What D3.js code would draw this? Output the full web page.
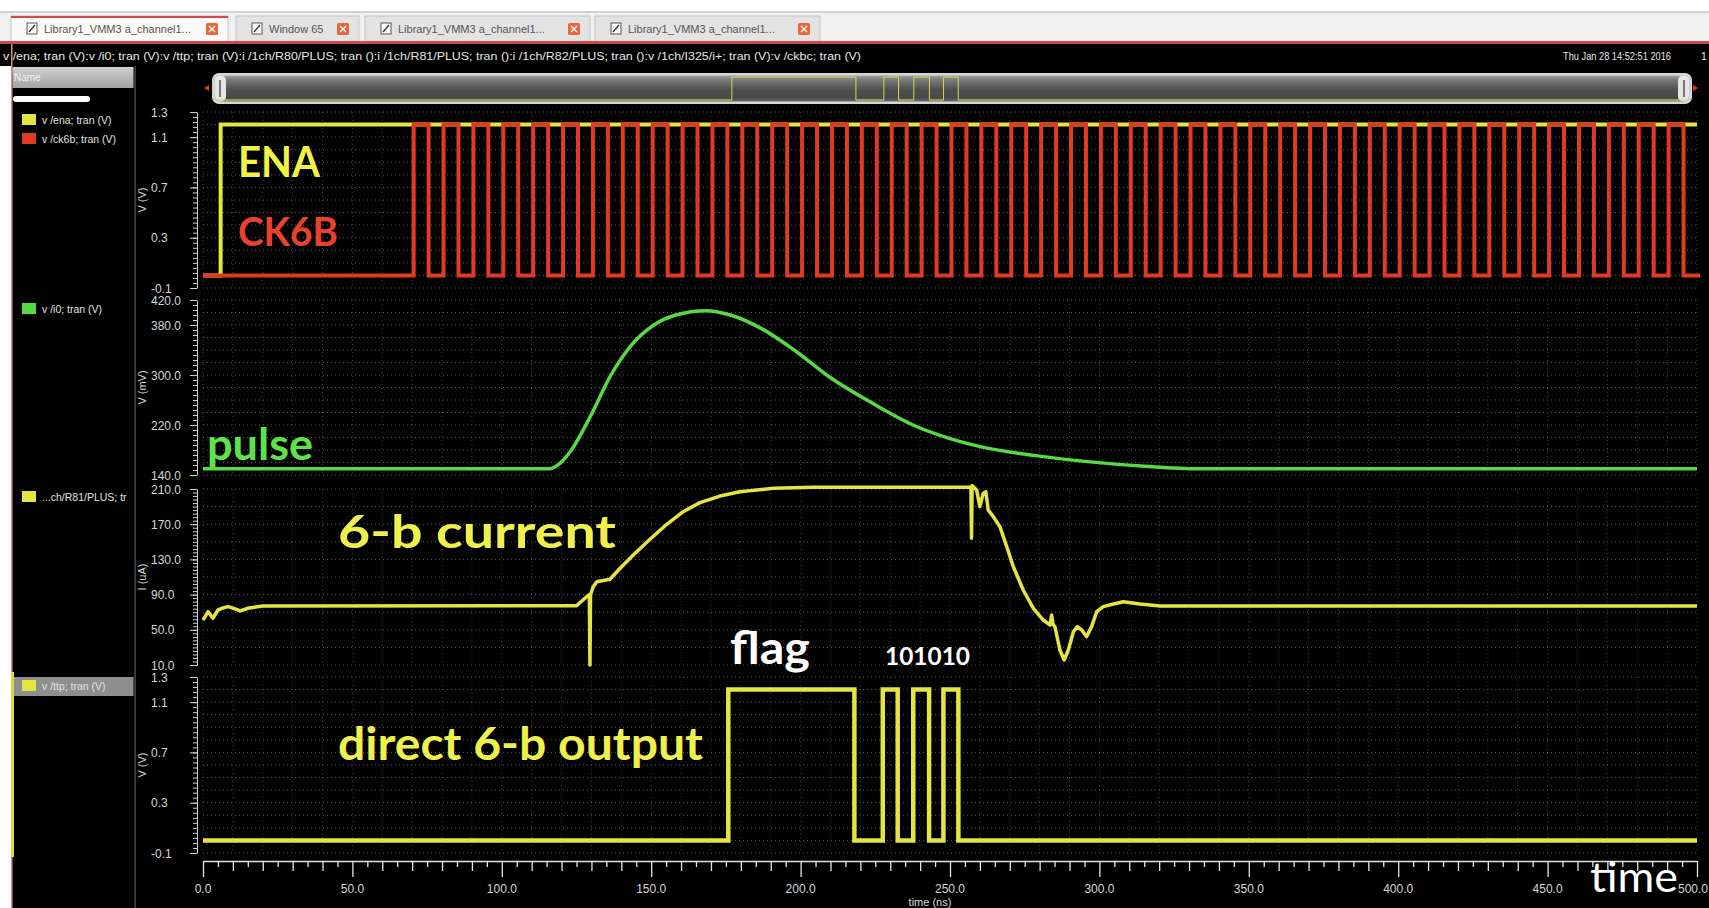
<!DOCTYPE html>
<html><head><meta charset="utf-8">
<script src="https://cdn.jsdelivr.net/npm/d3@7/dist/d3.min.js"></script>
<style>html,body{margin:0;padding:0;background:#000;overflow:hidden}svg{display:block}</style>
</head><body>
<svg id="chart" width="1709" height="908"></svg>
<script>
// ---------------- DATA ----------------
const tabLabels = ["Library1_VMM3 a_channel1...", "Window 65", "Library1_VMM3 a_channel1...", "Library1_VMM3 a_channel1..."];
const headerText = "v /ena; tran (V):v /i0; tran (V):v /ttp; tran (V):i /1ch/R80/PLUS; tran ():i /1ch/R81/PLUS; tran ():i /1ch/R82/PLUS; tran ():v /1ch/I325/i+; tran (V):v /ckbc; tran (V)";
const dateText = "Thu Jan 28 14:52:51 2016";
const legendLabels = ["v /ena; tran (V)", "v /ck6b; tran (V)", "v /i0; tran (V)", "...ch/R81/PLUS; tr", "v /ttp; tran (V)"];
const yTitles = ["V (V)", "V (mV)", "I (uA)", "V (V)"];
const p1TickValues = [1.3, 1.1, 0.7, 0.3, -0.1];
const p1TickLabels = ["1.3", "1.1", "0.7", "0.3", "-0.1"];
const p2TickValues = [420, 380, 300, 220, 140];
const p2TickLabels = ["420.0", "380.0", "300.0", "220.0", "140.0"];
const p3TickValues = [210, 170, 130, 90, 50, 10];
const p3TickLabels = ["210.0", "170.0", "130.0", "90.0", "50.0", "10.0"];
const p4TickValues = [1.3, 1.1, 0.7, 0.3, -0.1];
const p4TickLabels = ["1.3", "1.1", "0.7", "0.3", "-0.1"];
const xTickValues = [0, 50, 100, 150, 200, 250, 300, 350, 400, 450, 500];
const xTickLabels = ["0.0", "50.0", "100.0", "150.0", "200.0", "250.0", "300.0", "350.0", "400.0", "450.0", "500.0"];
const xTitle = "time (ns)";

// ENA (V)
const enaT = [0, 5.9, 5.9, 500];
const enaV = [0, 0, 1.2, 1.2];
// CK6B clock edges (ns), levels (V)
const ckRise = [70.5, 80.5, 90.5, 100.5, 110.5, 120.5, 130.5, 140.5, 150.5, 160.5, 170.5, 180.5, 190.5, 200.5, 210.5, 220.5, 230.5, 240.5, 250.5, 260.5, 270.5, 280.5, 290.5, 300.5, 310.5, 320.5, 330.5, 340.5, 350.5, 360.5, 370.5, 380.5, 390.5, 400.5, 410.5, 420.5, 430.5, 440.5, 450.5, 460.5, 470.5, 480.5, 490.5];
const ckFall = [75.5, 85.5, 95.5, 105.5, 115.5, 125.5, 135.5, 145.5, 155.5, 165.5, 175.5, 185.5, 195.5, 205.5, 215.5, 225.5, 235.5, 245.5, 255.5, 265.5, 275.5, 285.5, 295.5, 305.5, 315.5, 325.5, 335.5, 345.5, 355.5, 365.5, 375.5, 385.5, 395.5, 405.5, 415.5, 425.5, 435.5, 445.5, 455.5, 465.5, 475.5, 485.5, 495.5];
const ckLevels = [0, 1.2];
// pulse (mV)
const pulseT = [0, 116, 119, 122.7, 130, 136.3, 143.6, 150.9, 158.2, 168.4, 176.5, 187.4, 198.4, 209.3, 224, 238.6, 249.5, 260.5, 278.7, 296.9, 315.2, 333.4, 500];
const pulseV = [150, 150, 157, 176, 237, 298, 349, 380, 396, 403, 396, 373, 338, 298, 255, 218, 199, 185, 171, 161, 154, 150, 150];
// 6-b current (uA)
const curT = [0, 1.7, 3.3, 5, 6.7, 8.4, 10.5, 12.5, 15, 20, 125, 128.4, 129.3, 129.5, 129.7, 130.2, 130.6, 131.8, 136.2, 139.6, 144, 149.6, 155.2, 160.7, 166.3, 173, 179.7, 190.9, 204.3, 257.0, 257.2, 257.4, 258.9, 260, 261.1, 262, 262.8, 264.5, 266.7, 269, 271.2, 274.5, 277.9, 281.2, 283.5, 284, 284.5, 285.1, 286.8, 288.2, 289.6, 291.3, 292.6, 294.1, 295.7, 297.4, 299.1, 301.3, 304.7, 308, 313.6, 320.3, 500];
const curV = [61, 70.6, 63.1, 72.5, 74.8, 76.3, 74, 71.5, 74.5, 77, 77.4, 87.6, 90, 10, 90, 95, 99, 104.7, 107.4, 119.9, 135, 152.8, 169.9, 184.2, 194.5, 202, 206.9, 210.8, 212, 212, 154, 214, 209, 190, 205, 207, 186, 178.6, 167.2, 144.4, 121.7, 95.2, 74.4, 61.1, 55.5, 66.8, 56, 53.6, 27, 15.7, 27, 47.8, 53.6, 49.8, 42.2, 53.6, 70.6, 76.3, 79.3, 81.9, 79.3, 77, 77];
// direct 6-b output edges (ns), levels (V)
const outRise = [175.8, 227.5, 237.7, 247.8];
const outFall = [218, 232.5, 243, 252.8];
const outLevels = [0, 1.2];
// annotations
const annTexts = ["ENA", "CK6B", "pulse", "6-b current", "flag", "101010", "direct 6-b output", "time"];

// ---------------- STYLE / LAYOUT ----------------
const FONT = "'Liberation Sans', Arial, sans-serif";
const ANN = "Lato, 'Open Sans', sans-serif";
const C_YEL = "#e4e442", C_RED = "#e03a22", C_GRN = "#58d844";
const svg = d3.select("#chart");

const x = d3.scaleLinear().domain([0, 500]).range([203, 1697]);
const y1 = d3.scaleLinear().domain([-0.1, 1.3]).range([288, 112]);
const y2 = d3.scaleLinear().domain([140, 420]).range([475, 300]);
const y3 = d3.scaleLinear().domain([10, 210]).range([665, 489]);
const y4 = d3.scaleLinear().domain([-0.1, 1.3]).range([853, 677]);

function stepPts(rises, falls, lv, t0, t1) {
  const p = [[t0, lv[0]]];
  rises.forEach((r, i) => { p.push([r, lv[0]], [r, lv[1]], [falls[i], lv[1]], [falls[i], lv[0]]); });
  p.push([t1, lv[0]]);
  return p;
}
const zip = (a, b) => a.map((v, i) => [v, b[i]]);

// background
svg.append("rect").attr("width", 1709).attr("height", 908).attr("fill", "#000");

// ---- top chrome ----
svg.append("rect").attr("x", 0).attr("y", 0).attr("width", 1709).attr("height", 11).attr("fill", "#fff");
svg.append("rect").attr("x", 0).attr("y", 11).attr("width", 1709).attr("height", 2).attr("fill", "#d2d2d2");
svg.append("rect").attr("x", 0).attr("y", 13).attr("width", 1709).attr("height", 29).attr("fill", "#f0f0f0");
const tabX = [11, 236, 365, 595], tabW = [217, 123, 225, 225];
const tabs = svg.append("g");
tabLabels.forEach((t, i) => {
  const g = tabs.append("g").attr("transform", `translate(${tabX[i]},16)`);
  g.append("rect").attr("width", tabW[i]).attr("height", 26).attr("fill", i === 0 ? "#fafafa" : "#e3e3e3").attr("stroke", "#c6c6c6");
  if (i === 0) g.append("rect").attr("width", tabW[i]).attr("height", 2).attr("fill", "#d24a4a");
  g.append("rect").attr("x", 16).attr("y", 7).attr("width", 10).attr("height", 11).attr("fill", "#fff").attr("stroke", "#555");
  g.append("path").attr("d", "M18,16 L24,9").attr("stroke", "#333").attr("stroke-width", 1.3);
  g.append("text").attr("x", 33).attr("y", 17).attr("font-family", FONT).attr("font-size", 11).attr("fill", "#555").text(t);
  const cx = tabW[i] - 22;
  g.append("rect").attr("x", cx).attr("y", 7).attr("width", 12).attr("height", 12).attr("rx", 1.5).attr("fill", "#e8663c");
  g.append("path").attr("d", `M${cx + 3},10 L${cx + 9},16 M${cx + 9},10 L${cx + 3},16`).attr("stroke", "#fff").attr("stroke-width", 1.4);
});
svg.append("rect").attr("x", 0).attr("y", 41).attr("width", 1709).attr("height", 3).attr("fill", "#cc4a4a");

// header line
svg.append("text").attr("x", 3).attr("y", 60).attr("font-family", FONT).attr("font-size", 10.5).attr("fill", "#e6e6e6")
  .attr("textLength", 858).attr("lengthAdjust", "spacingAndGlyphs").text(headerText);
svg.append("text").attr("x", 1563).attr("y", 60).attr("font-family", FONT).attr("font-size", 10.5).attr("fill", "#e6e6e6")
  .attr("textLength", 108).attr("lengthAdjust", "spacingAndGlyphs").text(dateText);
svg.append("text").attr("x", 1701).attr("y", 60).attr("font-family", FONT).attr("font-size", 10.5).attr("fill", "#e6e6e6").text("1");

// ---- left panel ----
svg.append("rect").attr("x", 0).attr("y", 66).attr("width", 11).attr("height", 842).attr("fill", "#fff");
svg.append("rect").attr("x", 11).attr("y", 44).attr("width", 1.5).attr("height", 864).attr("fill", "#e58a8a");
svg.append("rect").attr("x", 134.5).attr("y", 66).attr("width", 1.2).attr("height", 842).attr("fill", "#5a5a5a");
const defs = svg.append("defs");
const gN = defs.append("linearGradient").attr("id", "nameg").attr("x1", 0).attr("x2", 0).attr("y1", 0).attr("y2", 1);
gN.append("stop").attr("offset", "0").attr("stop-color", "#cfcfcf");
gN.append("stop").attr("offset", "1").attr("stop-color", "#a4a4a4");
svg.append("rect").attr("x", 12.5).attr("y", 67).attr("width", 121).attr("height", 21).attr("fill", "url(#nameg)");
svg.append("text").attr("x", 14).attr("y", 81).attr("font-family", FONT).attr("font-size", 10).attr("fill", "#f2f2f2").text("Name");
svg.append("rect").attr("x", 13).attr("y", 96).attr("width", 77).attr("height", 6).attr("rx", 3).attr("fill", "#fff");

const legendColors = [C_YEL, C_RED, C_GRN, C_YEL, C_YEL];
const legendY = [120, 139, 309, 497, 686];
svg.append("rect").attr("x", 12.5).attr("y", 677).attr("width", 121).attr("height", 19).attr("fill", "#8e8e8e");
svg.append("rect").attr("x", 11).attr("y", 672).attr("width", 3).attr("height", 185).attr("fill", "#e0d840");
const leg = svg.append("g").selectAll("g").data(legendLabels).join("g")
  .attr("transform", (d, i) => `translate(0,${legendY[i]})`);
leg.append("rect").attr("x", 22).attr("y", -6).attr("width", 14).attr("height", 11).attr("fill", (d, i) => legendColors[i]);
leg.append("text").attr("x", 42).attr("y", 4).attr("font-family", FONT).attr("font-size", 10.5).attr("fill", "#e2e2e2").text(d => d);

// ---- scrollbar ----
const gS = defs.append("linearGradient").attr("id", "scrg").attr("x1", 0).attr("x2", 0).attr("y1", 0).attr("y2", 1);
[["0", "#a4a4a4"], ["0.15", "#7c7c7c"], ["0.55", "#505050"], ["0.85", "#484848"], ["1", "#6c6c6c"]].forEach(s => gS.append("stop").attr("offset", s[0]).attr("stop-color", s[1]));
svg.append("rect").attr("x", 212).attr("y", 73).attr("width", 1480).attr("height", 31).attr("rx", 7).attr("fill", "#d6d6d6");
svg.append("rect").attr("x", 215).attr("y", 75.5).attr("width", 1474).attr("height", 26).attr("rx", 5).attr("fill", "url(#scrg)");
svg.append("rect").attr("x", 215).attr("y", 75.5).attr("width", 11).attr("height", 26).attr("rx", 5).attr("fill", "#e6e6e6");
svg.append("rect").attr("x", 219).attr("y", 80).attr("width", 2).attr("height", 17).attr("fill", "#777");
svg.append("rect").attr("x", 1678).attr("y", 75.5).attr("width", 11).attr("height", 26).attr("rx", 5).attr("fill", "#e6e6e6");
svg.append("rect").attr("x", 1683).attr("y", 80).attr("width", 2).attr("height", 17).attr("fill", "#777");
svg.append("path").attr("d", "M204,88 L209,85 L209,91 Z").attr("fill", "#e03a22");
svg.append("path").attr("d", "M1698,88 L1693,85 L1693,91 Z").attr("fill", "#e03a22");
const xm = d3.scaleLinear().domain([0, 500]).range([215, 1685]);
const ym = d3.scaleLinear().domain([0, 1.2]).range([100, 77]);
svg.append("path").datum(stepPts(outRise, outFall, outLevels, 0, 500))
  .attr("d", d3.line().x(d => xm(d[0])).y(d => ym(d[1]))).attr("fill", "none").attr("stroke", "#d8d844").attr("stroke-width", 1);

// ---- panels: grid + axes ----
const panels = [
  { y: y1, step: 0.1, minor: 0.04, tv: p1TickValues, tl: p1TickLabels, title: yTitles[0] },
  { y: y2, step: 20, minor: 8, tv: p2TickValues, tl: p2TickLabels, title: yTitles[1] },
  { y: y3, step: 20, minor: 4, tv: p3TickValues, tl: p3TickLabels, title: yTitles[2] },
  { y: y4, step: 0.1, minor: 0.04, tv: p4TickValues, tl: p4TickLabels, title: yTitles[3] }
];
const gridV = d3.range(0, 501, 10);
panels.forEach(p => {
  const [d0, d1] = p.y.domain();
  const g = svg.append("g");
  const hv = d3.range(d0, d1 + p.step / 2, p.step);
  g.selectAll(".hg").data(hv).join("line")
    .attr("x1", x(0)).attr("x2", x(500)).attr("y1", d => p.y(d)).attr("y2", d => p.y(d))
    .attr("stroke", "#5c5c5c").attr("stroke-dasharray", "1,3");
  g.selectAll(".vg").data(gridV).join("line")
    .attr("x1", d => x(d)).attr("x2", d => x(d)).attr("y1", p.y.range()[1]).attr("y2", p.y.range()[0])
    .attr("stroke", "#404040").attr("stroke-dasharray", "1,3");
  const minorVals = d3.range(d0, d1 + p.minor / 2, p.minor);
  const ax = svg.append("g").attr("transform", "translate(197,0)")
    .call(d3.axisLeft(p.y).tickValues(minorVals).tickSize(4).tickSizeOuter(0).tickFormat(""));
  ax.selectAll("path,line").attr("stroke", "#d0d0d0");
  const ax2 = svg.append("g").attr("transform", "translate(197,0)")
    .call(d3.axisLeft(p.y).tickValues(p.tv).tickSize(7).tickSizeOuter(0).tickFormat(""));
  ax2.select(".domain").remove();
  ax2.selectAll("line").attr("stroke", "#d0d0d0");
  svg.append("g").selectAll("text").data(p.tv).join("text")
    .attr("x", 151).attr("y", d => p.y(d) + 4.5)
    .attr("font-family", FONT).attr("font-size", 12).attr("fill", "#d6d6d6")
    .text((d, i) => p.tl[i]);
  const cy = (p.y.range()[0] + p.y.range()[1]) / 2;
  svg.append("text").attr("transform", `translate(146,${cy}) rotate(-90)`).attr("text-anchor", "middle")
    .attr("font-family", FONT).attr("font-size", 11).attr("fill", "#d6d6d6").text(p.title);
});

// ---- x axis ----
const xa = svg.append("g").attr("transform", "translate(0,861)")
  .call(d3.axisBottom(x).tickValues(d3.range(0, 501, 5)).tickSizeOuter(0).tickFormat(""));
xa.selectAll(".tick line").attr("y2", d => d % 50 === 0 ? 16 : (d % 10 === 0 ? 10 : 6));
xa.selectAll("path,line").attr("stroke", "#e4e4e4").attr("stroke-width", 1.3);
const nX = xTickValues.length;
svg.append("g").selectAll("text").data(xTickValues).join("text")
  .attr("x", (d, i) => i === nX - 1 ? 1708 : x(d)).attr("y", 893)
  .attr("text-anchor", (d, i) => i === nX - 1 ? "end" : "middle")
  .attr("font-family", FONT).attr("font-size", 12).attr("fill", "#d6d6d6")
  .text((d, i) => xTickLabels[i]);
svg.append("text").attr("x", 930).attr("y", 906).attr("text-anchor", "middle")
  .attr("font-family", FONT).attr("font-size", 11).attr("fill", "#d6d6d6").text(xTitle);

// ---- traces ----
const line = (ys) => d3.line().x(d => x(d[0])).y(d => ys(d[1]));
svg.append("path").datum(zip(enaT, enaV)).attr("d", line(y1))
  .attr("fill", "none").attr("stroke", C_YEL).attr("stroke-width", 4);
svg.append("path").datum(stepPts(ckRise, ckFall, ckLevels, 0, 501)).attr("d", line(y1))
  .attr("fill", "none").attr("stroke", C_RED).attr("stroke-width", 4);
svg.append("path").datum(zip(pulseT, pulseV)).attr("d", line(y2).curve(d3.curveMonotoneX))
  .attr("fill", "none").attr("stroke", C_GRN).attr("stroke-width", 3.5);
svg.append("path").datum(zip(curT, curV)).attr("d", line(y3))
  .attr("fill", "none").attr("stroke", C_YEL).attr("stroke-width", 3.5).attr("stroke-linejoin", "round");
svg.append("path").datum(stepPts(outRise, outFall, outLevels, 0, 500)).attr("d", line(y4))
  .attr("fill", "none").attr("stroke", C_YEL).attr("stroke-width", 4.5);

// ---- annotations ----
const annX = [238, 238, 207, 338, 730, 885, 338, 1590];
const annY = [177, 246, 460, 548, 664, 665, 760, 892];
const annSize = [42, 41, 44, 46, 46, 24, 46, 42];
const annW = [82, 100, 106, 278, 80, 85, 365, 88];
const annWeight = [700, 700, 700, 700, 700, 700, 700, 400];
const annColor = ["#f2f244", "#e8432a", "#5ee24c", "#f0f04c", "#ffffff", "#ffffff", "#f0f04c", "#ffffff"];
svg.append("g").selectAll("text").data(annTexts).join("text")
  .attr("x", (d, i) => annX[i]).attr("y", (d, i) => annY[i])
  .attr("font-family", ANN).attr("font-weight", (d, i) => annWeight[i])
  .attr("font-size", (d, i) => annSize[i]).attr("fill", (d, i) => annColor[i])
  .attr("textLength", (d, i) => annW[i]).attr("lengthAdjust", "spacingAndGlyphs")
  .text(d => d);
</script>
</body></html>
